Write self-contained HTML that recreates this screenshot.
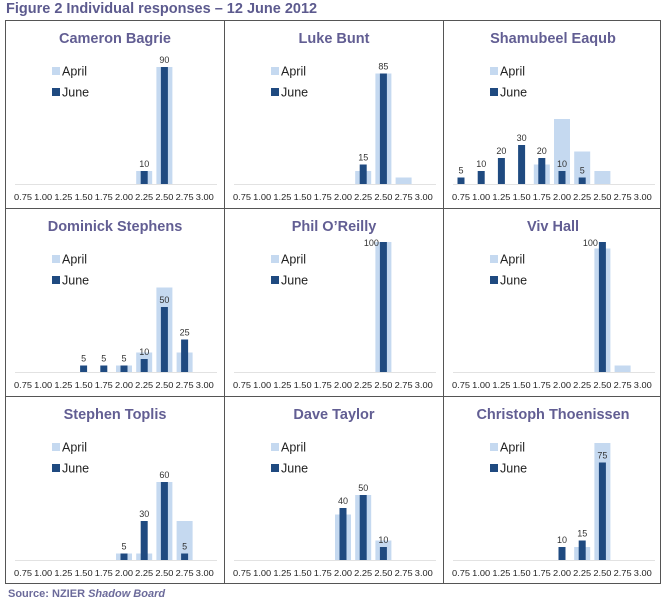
<!DOCTYPE html>
<html><head><meta charset="utf-8"><style>
body{margin:0;background:#fff;width:668px;height:600px;overflow:hidden;font-family:"Liberation Sans",sans-serif}
svg{position:absolute;left:0;top:0}
</style></head><body>
<svg id="fig" width="668" height="600">
<text x="6" y="13" font-size="14.5" font-weight="bold" fill="#5c5a8e">Figure 2 Individual responses – 12 June 2012</text>
<text x="8" y="597" font-size="11" font-weight="bold" fill="#6b6a9a">Source: NZIER <tspan font-style="italic">Shadow Board</tspan></text>
</svg>
<script>
const categories=["0.75","1.00","1.25","1.50","1.75","2.00","2.25","2.50","2.75","3.00"];
const names=["Cameron Bagrie","Luke Bunt","Shamubeel Eaqub","Dominick Stephens","Phil O’Reilly","Viv Hall","Stephen Toplis","Dave Taylor","Christoph Thoenissen"];
const april=[
[0,0,0,0,0,0,10,90,0,0],
[0,0,0,0,0,0,10,85,5,0],
[0,0,0,0,15,50,25,10,0,0],
[0,0,0,0,0,5,15,65,15,0],
[0,0,0,0,0,0,0,100,0,0],
[0,0,0,0,0,0,0,95,5,0],
[0,0,0,0,0,5,5,60,30,0],
[0,0,0,0,0,35,50,15,0,0],
[0,0,0,0,0,0,10,90,0,0]];
const june=[
[0,0,0,0,0,0,10,90,0,0],
[0,0,0,0,0,0,15,85,0,0],
[5,10,20,30,20,10,5,0,0,0],
[0,0,0,5,5,5,10,50,25,0],
[0,0,0,0,0,0,0,100,0,0],
[0,0,0,0,0,0,0,100,0,0],
[0,0,0,0,0,5,30,60,5,0],
[0,0,0,0,0,40,50,10,0,0],
[0,0,0,0,0,10,15,75,0,0]];
const NS="http://www.w3.org/2000/svg";
const svg=document.getElementById('fig');
function mk(tag,attrs,parent){const e=document.createElementNS(NS,tag);for(const k in attrs)e.setAttribute(k,attrs[k]);(parent||svg).appendChild(e);return e;}
const colX=[5,224,443],rowY=[20,208,396],rowH=[188,188,187];
const pxPerUnit=1.3;
names.forEach((nm,i)=>{
  const c=i%3,r=Math.floor(i/3);
  const x0=colX[c],y0=rowY[r];
  const g=mk('g',{});
  
  
  const w=(c==2?217:219);
  const border=mk('rect',{x:x0+0.5,y:y0+0.5,width:w,height:rowH[r],fill:'none',stroke:'#555','stroke-width':1},g);
  
  
  const t=mk('text',{x:x0+110,y:y0+23,'text-anchor':'middle','font-size':14.5,'font-weight':'bold',fill:'#625e93'},g);
  t.textContent=nm;
  
  
  const base=y0+164;
  const xs=v=>x0+18+v*20.2;
  const ys=v=>base-v*pxPerUnit;
  const ax=mk('line',{x1:x0+10,x2:x0+212,y1:base+0.5,y2:base+0.5,stroke:'#e2e2e2'},g);
  
  
  categories.forEach((cat,k)=>{
    const tl=mk('text',{x:xs(k),y:base+16,'text-anchor':'middle','font-size':8.6,fill:'#222','textLength':18,'lengthAdjust':'spacingAndGlyphs'},g);
    tl.textContent=cat;
    
    
    const a=april[i][k],j=june[i][k];
    if(a>0){const b=mk('rect',{x:xs(k)-8,y:ys(a),width:16,height:base-ys(a),fill:'#c5d9f0'},g);
      
      }
    if(j>0){const b=mk('rect',{x:xs(k)-3.5,y:ys(j),width:7,height:base-ys(j),fill:'#1f4a80'},g);
      
      
      const big=j>=100;
      const lx=big?xs(k)-12:xs(k);
      const ly=big?ys(j)+4:ys(j)-4;
      const lb=mk('text',{x:lx,y:ly,'text-anchor':'middle','font-size':9,fill:'#333'},g);
      lb.textContent=j;
      
      }
  });
  [['April','#c5d9f0',51],['June','#1f4a80',72]].forEach(([lbl,col,dy])=>{
    const s=mk('rect',{x:x0+47,y:y0+dy-4,width:8,height:8,fill:col},g);
    
    
    const lt=mk('text',{x:x0+57,y:y0+dy+4.5,'font-size':12.5,fill:'#222'},g);
    lt.textContent=lbl;
    
    
  });
});
</script>
</body></html>
